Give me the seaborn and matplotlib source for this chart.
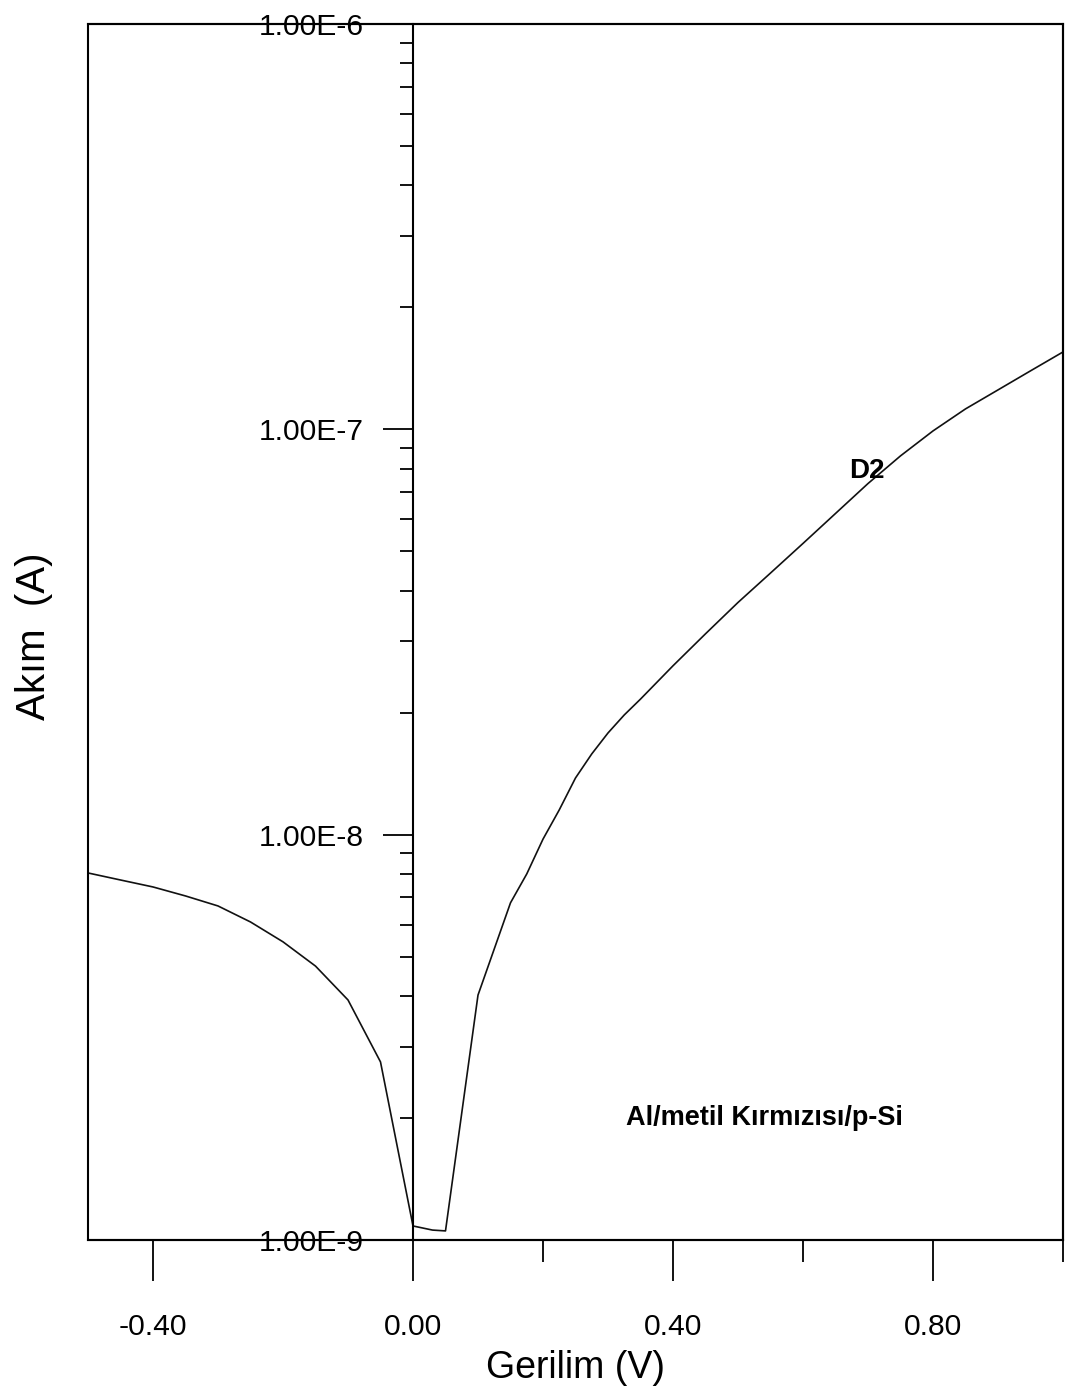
import numpy as np
import pandas as pd
import matplotlib
matplotlib.use("Agg")
import matplotlib.pyplot as plt
import seaborn as sns
from matplotlib.ticker import FixedLocator, LogLocator, NullFormatter, FixedFormatter
from matplotlib.patches import Rectangle

# ---- data ----
voltage = [-0.50, -0.45, -0.40, -0.35, -0.30, -0.25, -0.20, -0.15, -0.10, -0.05,
           0.00, 0.03, 0.05, 0.10, 0.15, 0.175, 0.20, 0.225, 0.25, 0.275, 0.30, 0.325,
           0.35, 0.40, 0.45, 0.50, 0.55, 0.60, 0.65, 0.70, 0.75, 0.80, 0.85, 0.90, 0.95, 1.00]
current = [8.045e-9, 7.73e-9, 7.43e-9, 7.06e-9, 6.67e-9, 6.09e-9, 5.44e-9, 4.74e-9, 3.91e-9, 2.75e-9,
           1.083e-9, 1.058e-9, 1.053e-9, 4.02e-9, 6.79e-9, 8.0e-9, 9.75e-9, 1.151e-8, 1.38e-8, 1.582e-8,
           1.782e-8, 1.974e-8,
           2.16e-8, 2.61e-8, 3.13e-8, 3.74e-8, 4.42e-8, 5.23e-8, 6.20e-8, 7.35e-8, 8.60e-8,
           9.91e-8, 1.123e-7, 1.251e-7, 1.394e-7, 1.552e-7]

x_major = [-0.4, 0.0, 0.4, 0.8]
x_major_labels = ["-0.40", "0.00", "0.40", "0.80"]
x_minor = [0.2, 0.6, 1.0]
y_major = [1e-9, 1e-8, 1e-7, 1e-6]
y_major_labels = ["1.00E-9", "1.00E-8", "1.00E-7", "1.00E-6"]

x_title = "Gerilim (V)"
y_title = "Akım  (A)"
curve_label = "D2"
sample_label = "Al/metil Kırmızısı/p-Si"

sns.set_theme(style="white")
plt.rcParams["font.family"] = ["Liberation Sans", "DejaVu Sans"]

W, H = 1071, 1400
fig = plt.figure(figsize=(W / 100, H / 100), dpi=100)
ax = fig.add_axes([88 / W, 1 - 1240 / H, 975 / W, 1216 / H])

df = pd.DataFrame({"V": voltage, "I": current})
sns.lineplot(data=df, x="V", y="I", ax=ax, color="#111111", linewidth=1.2,
             sort=False, estimator=None)

ax.set_yscale("log")
ax.set_xlim(-0.5, 1.0)
ax.set_ylim(1e-9, 1e-6)

# spines: left spine moved to x = 0, frame drawn as a rectangle
for s in ["top", "right", "bottom"]:
    ax.spines[s].set_color("black")
    ax.spines[s].set_linewidth(1.5)
ax.spines["left"].set_position(("data", 0))
ax.spines["left"].set_color("black")
ax.spines["left"].set_linewidth(1.5)
ax.add_patch(Rectangle((0, 0), 1, 1, transform=ax.transAxes, fill=False,
                       edgecolor="black", linewidth=1.5, clip_on=False, zorder=5))

# x ticks
ax.xaxis.set_major_locator(FixedLocator(x_major))
ax.xaxis.set_major_formatter(FixedFormatter(x_major_labels))
ax.xaxis.set_minor_locator(FixedLocator(x_minor))
ax.xaxis.set_minor_formatter(NullFormatter())
ax.tick_params(axis="x", which="major", direction="out", length=29.5, width=1.3,
               color="black", pad=23, labelsize=21.6, labelcolor="black", bottom=True)
ax.tick_params(axis="x", which="minor", direction="out", length=15.5, width=1.3,
               color="black", bottom=True)

# y ticks
ax.yaxis.set_major_locator(FixedLocator(y_major))
ax.yaxis.set_major_formatter(FixedFormatter(y_major_labels))
ax.yaxis.set_minor_locator(LogLocator(base=10, subs=np.arange(2, 10)))
ax.yaxis.set_minor_formatter(NullFormatter())
ax.tick_params(axis="y", which="major", direction="out", length=21.5, width=1.3,
               color="black", pad=14, labelsize=21.6, labelcolor="black", left=True)
ax.tick_params(axis="y", which="minor", direction="out", length=9.5, width=1.3,
               color="black", left=True)
for lab in ax.get_yticklabels():
    lab.set_zorder(6)

ax.grid(False)

ax.set_xlabel(x_title, fontsize=27, color="black", va="center")
ax.xaxis.set_label_coords(0.5, (1240 - 1368) / 1216)
ax.set_ylabel(y_title, fontsize=29, color="black", va="center", ha="center")
ax.yaxis.set_label_coords((34 - 88) / 975, (1240 - 636) / 1216)

ax.text(0.698, 7.9e-8, curve_label, fontsize=20, fontweight="bold",
        ha="center", va="center", color="black")
ax.text(0.540, 2.0e-9, sample_label, fontsize=19.5, fontweight="bold",
        ha="center", va="center", color="black")

fig.savefig("out.png", dpi=100, facecolor="white")
